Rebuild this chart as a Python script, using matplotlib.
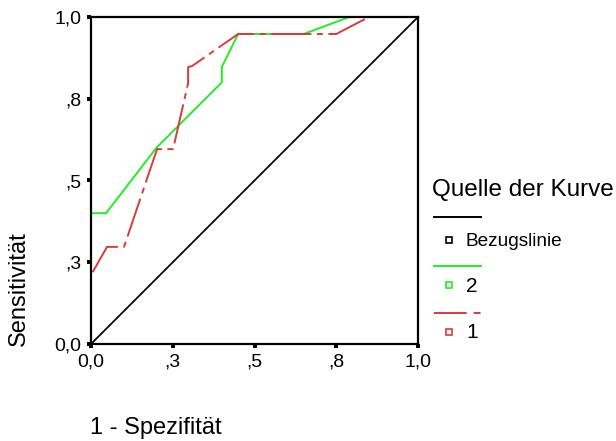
import matplotlib
matplotlib.use("Agg")
import matplotlib.pyplot as plt
from matplotlib.lines import Line2D

plt.rcParams['font.family'] = ['Liberation Sans', 'DejaVu Sans']
plt.rcParams['lines.scale_dashes'] = False

# ROC data
ref_x = [0.0, 1.0]
ref_y = [0.0, 1.0]
curve2_x = [0.0, 0.0, 0.046, 0.20, 0.40, 0.40, 0.45, 0.65, 0.79, 1.0]
curve2_y = [0.0, 0.40, 0.40, 0.60, 0.80, 0.847, 0.948, 0.948, 1.0, 1.0]
curve1_x = [0.0, 0.0, 0.049, 0.101, 0.202, 0.251, 0.297, 0.297, 0.309, 0.45, 0.75, 0.85, 1.0]
curve1_y = [0.0, 0.211, 0.297, 0.297, 0.596, 0.596, 0.798, 0.847, 0.850, 0.948, 0.948, 1.0, 1.0]
ticks = [0.0, 0.25, 0.5, 0.75, 1.0]
tick_labels = ['0,0', ',3', ',5', ',8', '1,0']
series_labels = ['Bezugslinie', '2', '1']
legend_title = 'Quelle der Kurve'

W, H = 616, 441
fig = plt.figure(figsize=(W / 100, H / 100), dpi=100)
ax = fig.add_axes([91 / W, (H - 344) / H, 327 / W, 327 / H])

GREEN = '#22ee22'
RED = '#d93a3a'
red_dash = (30.2, (28.8, 4.0, 4.3, 4.0))
legend_dash = (0, (23.5, 5.0, 5.0, 5.0))

ax.plot(ref_x, ref_y, color='black', lw=1.3, clip_on=False)
ax.plot(curve2_x, curve2_y, color=GREEN, lw=1.4, clip_on=False)
ax.plot(curve1_x, curve1_y, color=RED, lw=1.4, linestyle=red_dash, clip_on=False)

ax.set_xlim(0, 1)
ax.set_ylim(0, 1)
ax.set_xticks(ticks)
ax.set_xticklabels(tick_labels)
ax.set_yticks(ticks)
ax.set_yticklabels(tick_labels)
for s in ax.spines.values():
    s.set_linewidth(1.6)
    s.set_color('black')
ax.tick_params(direction='out', length=2.8, width=2.8, labelsize=14, pad=4)

fig.text(90 / W, 1 - 428 / H, '1 - Spezifität', fontsize=17, ha='left', va='center')
fig.text(19 / W, 1 - 346 / H, 'Sensitivität', fontsize=17, rotation=90, ha='center', va='bottom')

# Legend drawn manually
fig.text(432 / W, 1 - 190 / H, legend_title, fontsize=17.5, ha='left', va='center')
colors = ['black', GREEN, RED]
styles = ['-', '-', legend_dash]
line_y = [217, 266, 313]
mark_y = [240, 285, 332]
for lab, c, ls, ly, my in zip(series_labels, colors, styles, line_y, mark_y):
    fig.add_artist(Line2D([434 / W, 481 / W], [1 - ly / H, 1 - ly / H], color=c, lw=1.4,
                          linestyle=ls, transform=fig.transFigure))
    fig.add_artist(Line2D([449 / W], [1 - my / H], marker='s', markersize=4.5, markerfacecolor='white',
                          markeredgecolor=c, markeredgewidth=1.2, linestyle='none',
                          transform=fig.transFigure))
    fig.text(466 / W, 1 - (my + 1) / H, lab, fontsize=13.7 if lab == 'Bezugslinie' else 15,
             ha='left', va='center')

fig.savefig('out.png', dpi=100)
